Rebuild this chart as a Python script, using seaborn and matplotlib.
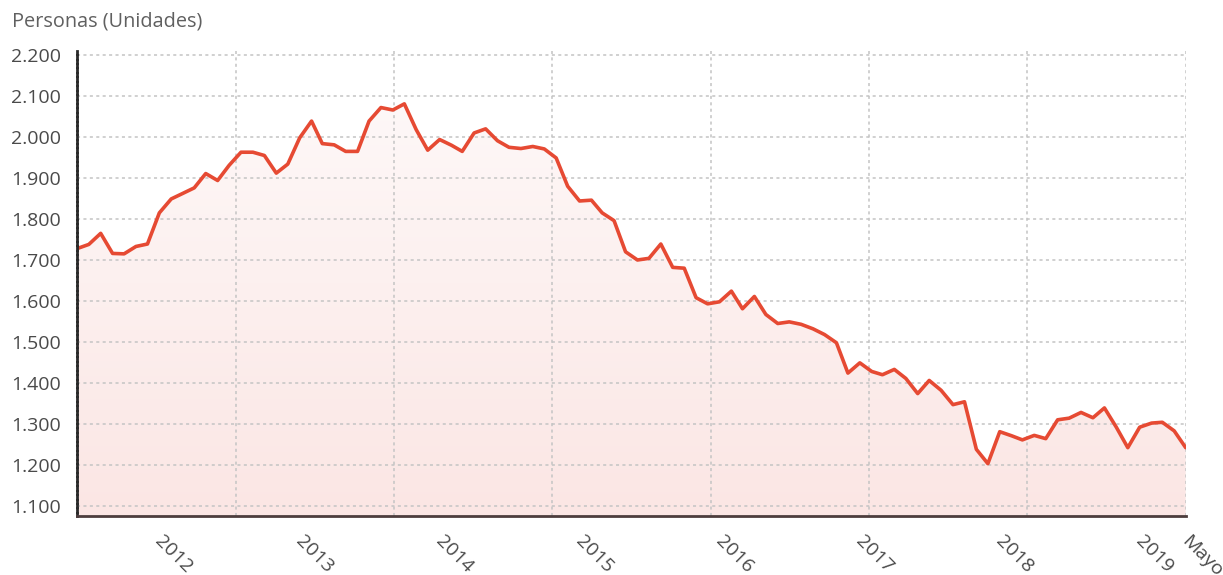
import numpy as np
import pandas as pd
import matplotlib
matplotlib.use("Agg")
import matplotlib.pyplot as plt
import matplotlib.dates as mdates
from matplotlib.colors import LinearSegmentedColormap
import seaborn as sns

# monthly values, Jun 2011 - May 2019
months = pd.date_range("2011-06-01", "2019-05-01", freq="MS")
personas = [
    1728, 1738, 1765, 1716, 1715, 1733, 1739,                          # 2011
    1815, 1849, 1862, 1876, 1911, 1894, 1931, 1963, 1963, 1955, 1912, 1934,  # 2012
    1998, 2039, 1984, 1981, 1965, 1965, 2039, 2072, 2066, 2081, 2018, 1968,  # 2013
    1994, 1980, 1965, 2010, 2020, 1991, 1975, 1972, 1977, 1971, 1949, 1880,  # 2014
    1844, 1846, 1815, 1796, 1720, 1700, 1704, 1739, 1682, 1680, 1608, 1593,  # 2015
    1598, 1624, 1581, 1611, 1567, 1545, 1549, 1543, 1532, 1518, 1498, 1424,  # 2016
    1449, 1428, 1420, 1433, 1411, 1374, 1406, 1382, 1347, 1354, 1238, 1203,  # 2017
    1281, 1271, 1261, 1272, 1264, 1310, 1314, 1328, 1315, 1339, 1292, 1242,  # 2018
    1292, 1302, 1304, 1283, 1242,                                      # 2019
]

ytick_values = [1100, 1200, 1300, 1400, 1500, 1600, 1700, 1800, 1900, 2000, 2100, 2200]
ytick_labels = ["1.100", "1.200", "1.300", "1.400", "1.500", "1.600",
                "1.700", "1.800", "1.900", "2.000", "2.100", "2.200"]
xtick_dates = ["2012-01-01", "2013-01-01", "2014-01-01", "2015-01-01", "2016-01-01",
               "2017-01-01", "2018-01-01", "2019-01-01", "2019-05-01"]
xtick_labels = ["2012", "2013", "2014", "2015", "2016", "2017", "2018", "2019", "Mayo"]

sns.set_style("white")
plt.rcParams['font.family'] = ['Open Sans', 'DejaVu Sans']

df = pd.DataFrame({"mes": months, "personas": personas})

fig = plt.figure(figsize=(12.23, 5.75), dpi=100)
ax = fig.add_axes([77.3 / 1223, 1 - 515.7 / 575, (1185.7 - 77.3) / 1223, (515.7 - 51) / 575])

ylo, yhi = 1076, 2210
x0 = mdates.date2num(months[0])
x1 = mdates.date2num(months[-1])

# gradient area under the line
poly = ax.fill_between(df["mes"], df["personas"], ylo, color="none", linewidth=0)
grad = np.linspace(0, 1, 256).reshape(-1, 1)
cmap = LinearSegmentedColormap.from_list("area", ["#fefafa", "#fbe6e4"])
im = ax.imshow(grad, cmap=cmap, aspect="auto", extent=[x0, x1, ylo, yhi],
               origin="upper", zorder=1, interpolation="bilinear")
im.set_clip_path(poly.get_paths()[0], transform=ax.transData)

sns.lineplot(data=df, x="mes", y="personas", color="#e64a33", linewidth=2.6, ax=ax, zorder=5)

ax.set_xlim(x0, x1)
ax.set_ylim(ylo, yhi)

# grid
ax.set_yticks(ytick_values)
ax.set_yticklabels(ytick_labels)
for yv in ytick_values:
    ax.axhline(yv, color="#c4c4c4", linewidth=1.1, linestyle=(0, (2, 2.2)), zorder=2)
for xv in np.linspace(x0, x1, 8)[1:]:
    ax.axvline(xv, color="#c4c4c4", linewidth=1.1, linestyle=(0, (2, 2.2)), zorder=2)

# year ticks, labels drawn slanted under each tick
xticks = mdates.date2num(pd.to_datetime(xtick_dates))
ax.set_xticks(xticks)
ax.set_xticklabels([])
for xv, lab in zip(xticks, xtick_labels):
    ax.annotate(lab, xy=(xv, 0), xycoords=ax.get_xaxis_transform(),
                xytext=(3.6, -12), textcoords="offset points",
                rotation=-45, ha="left", va="top", rotation_mode="anchor",
                fontsize=14, color="#4a4a4a", annotation_clip=False)

ax.set_xlabel("")
ax.set_ylabel("")

for s in ["top", "right"]:
    ax.spines[s].set_visible(False)
ax.spines["left"].set_color("#2a2a2a")
ax.spines["left"].set_linewidth(2)
ax.spines["left"].set_linestyle((0, (1, 0.6)))
ax.spines["bottom"].set_color("#4d3d3d")
ax.spines["bottom"].set_linewidth(2)
ax.spines["left"].set_zorder(6)
ax.spines["bottom"].set_zorder(6)

ax.tick_params(axis="y", length=4, width=2, color="#333333", pad=8,
               labelsize=14, labelcolor="#4a4a4a")
ax.tick_params(axis="x", length=4, width=2, color="#333333")

fig.text(12 / 1223, 1 - 22 / 575, "Personas (Unidades)", va="center", ha="left",
         color="#606060", fontsize=14.3)

fig.savefig("out.png", dpi=100)
